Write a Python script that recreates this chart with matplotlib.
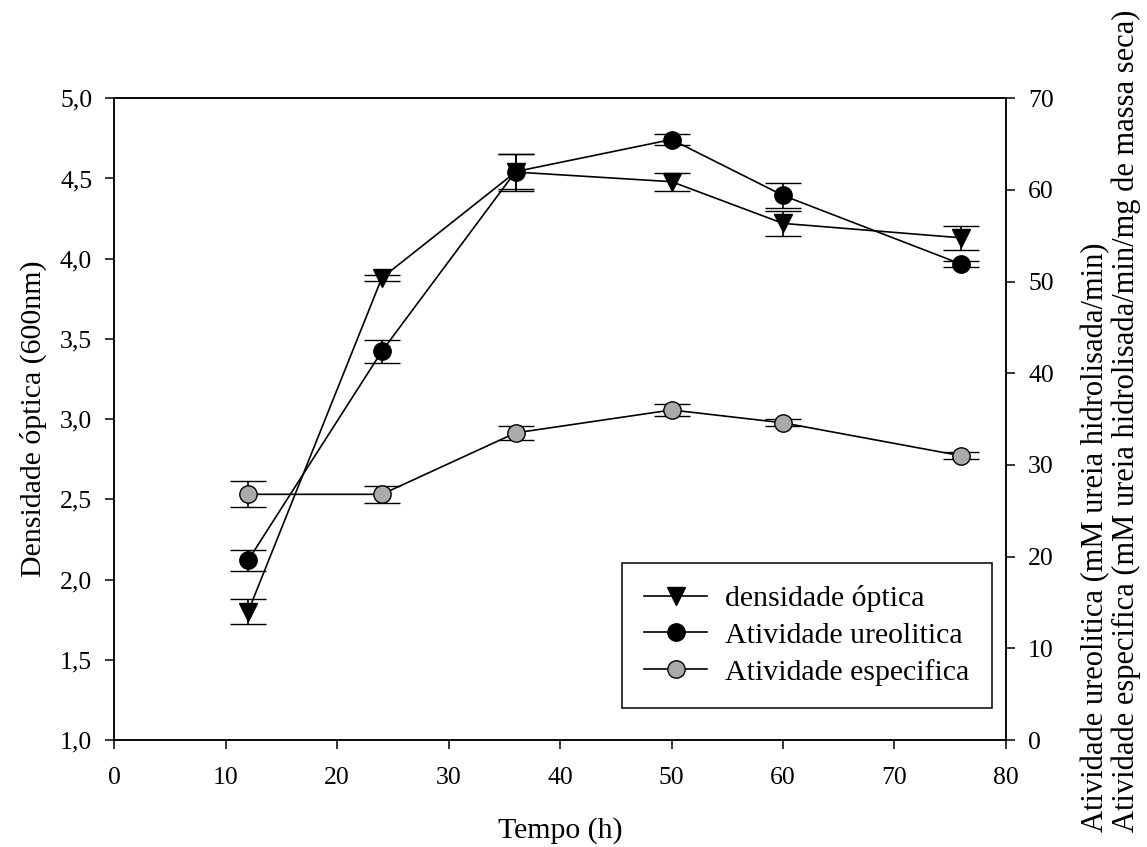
import numpy as np
import matplotlib
matplotlib.use("Agg")
import matplotlib.pyplot as plt
from matplotlib.ticker import FuncFormatter

# Tempo de cultivo (h)
tempo = [12, 24, 36, 50, 60, 76]

# Densidade optica (eixo esquerdo)
densidade = [1.80, 3.88, 4.54, 4.48, 4.22, 4.13]
densidade_err = [0.078, 0.02, 0.115, 0.055, 0.076, 0.073]

# Atividade ureolitica (eixo direito)
ureolitica = [19.6, 42.4, 62.0, 65.5, 59.4, 51.9]
ureolitica_err = [1.13, 1.27, 1.9, 0.55, 1.34, 0.3]

# Atividade especifica (eixo direito)
especifica = [26.8, 26.8, 33.5, 36.0, 34.6, 31.0]
especifica_err = [1.42, 0.96, 0.8, 0.69, 0.4, 0.4]

plt.rcParams['font.family'] = ['Liberation Serif', 'DejaVu Serif']

fig = plt.figure(figsize=(11.47, 8.47), dpi=100)
ax = fig.add_axes([0.0997, 0.1263, 0.7773, 0.7577])
ax2 = ax.twinx()

lw = 1.2
estilo = dict(capsize=13, elinewidth=lw, capthick=lw, linewidth=lw, color='black',
              markeredgecolor='black', markeredgewidth=1.0)

d = ax.errorbar(tempo, densidade, yerr=densidade_err, marker='v', markersize=13,
                markerfacecolor='black', label='densidade óptica', **estilo)
u = ax2.errorbar(tempo, ureolitica, yerr=ureolitica_err, marker='o', markersize=12.5,
                 markerfacecolor='black', label='Atividade ureolitica', **estilo)
e = ax2.errorbar(tempo, especifica, yerr=especifica_err, marker='o', markersize=12.5,
                 markerfacecolor='#aaaaaa', label='Atividade especifica', **estilo)

ax.set_xlim(0, 80)
ax.set_ylim(1.0, 5.0)
ax2.set_ylim(0, 70)
ax.set_xticks(np.arange(0, 81, 10))
ax.set_yticks(np.arange(1.0, 5.01, 0.5))
ax2.set_yticks(np.arange(0, 71, 10))
ax.yaxis.set_major_formatter(FuncFormatter(lambda v, p: f"{v:.1f}".replace('.', ',')))

for a in (ax, ax2):
    a.tick_params(direction='out', length=6.5, width=1.1, labelsize=18.5, pad=9.5)
    for s in a.spines.values():
        s.set_linewidth(1.1)
ax.tick_params(axis='x', pad=13)

ax.set_xlabel('Tempo (h)', fontsize=21.5, labelpad=20)
ax.set_ylabel('Densidade óptica (600nm)', fontsize=21.5, labelpad=9)

fig.text(1096 / 1147, 1 - 832 / 847, 'Atividade ureolitica (mM ureia hidrolisada/min)',
         rotation=90, ha='center', va='bottom', fontsize=22)
fig.text(1126 / 1147, 1 - 832 / 847,
         'Atividade especifica (mM ureia hidrolisada/min/mg de massa seca)',
         rotation=90, ha='center', va='bottom', fontsize=22)

leg = ax2.legend([d[0], u[0], e[0]],
                 ['densidade óptica', 'Atividade ureolitica', 'Atividade especifica'],
                 loc='lower right', bbox_to_anchor=(0.984, 0.050), fontsize=21.5,
                 frameon=True, fancybox=False, edgecolor='black', framealpha=1,
                 handlelength=2.1, borderpad=0.75, labelspacing=0.33, handletextpad=0.6,
                 borderaxespad=0)
leg.get_frame().set_linewidth(1.1)

fig.savefig('out.png', dpi=100)
